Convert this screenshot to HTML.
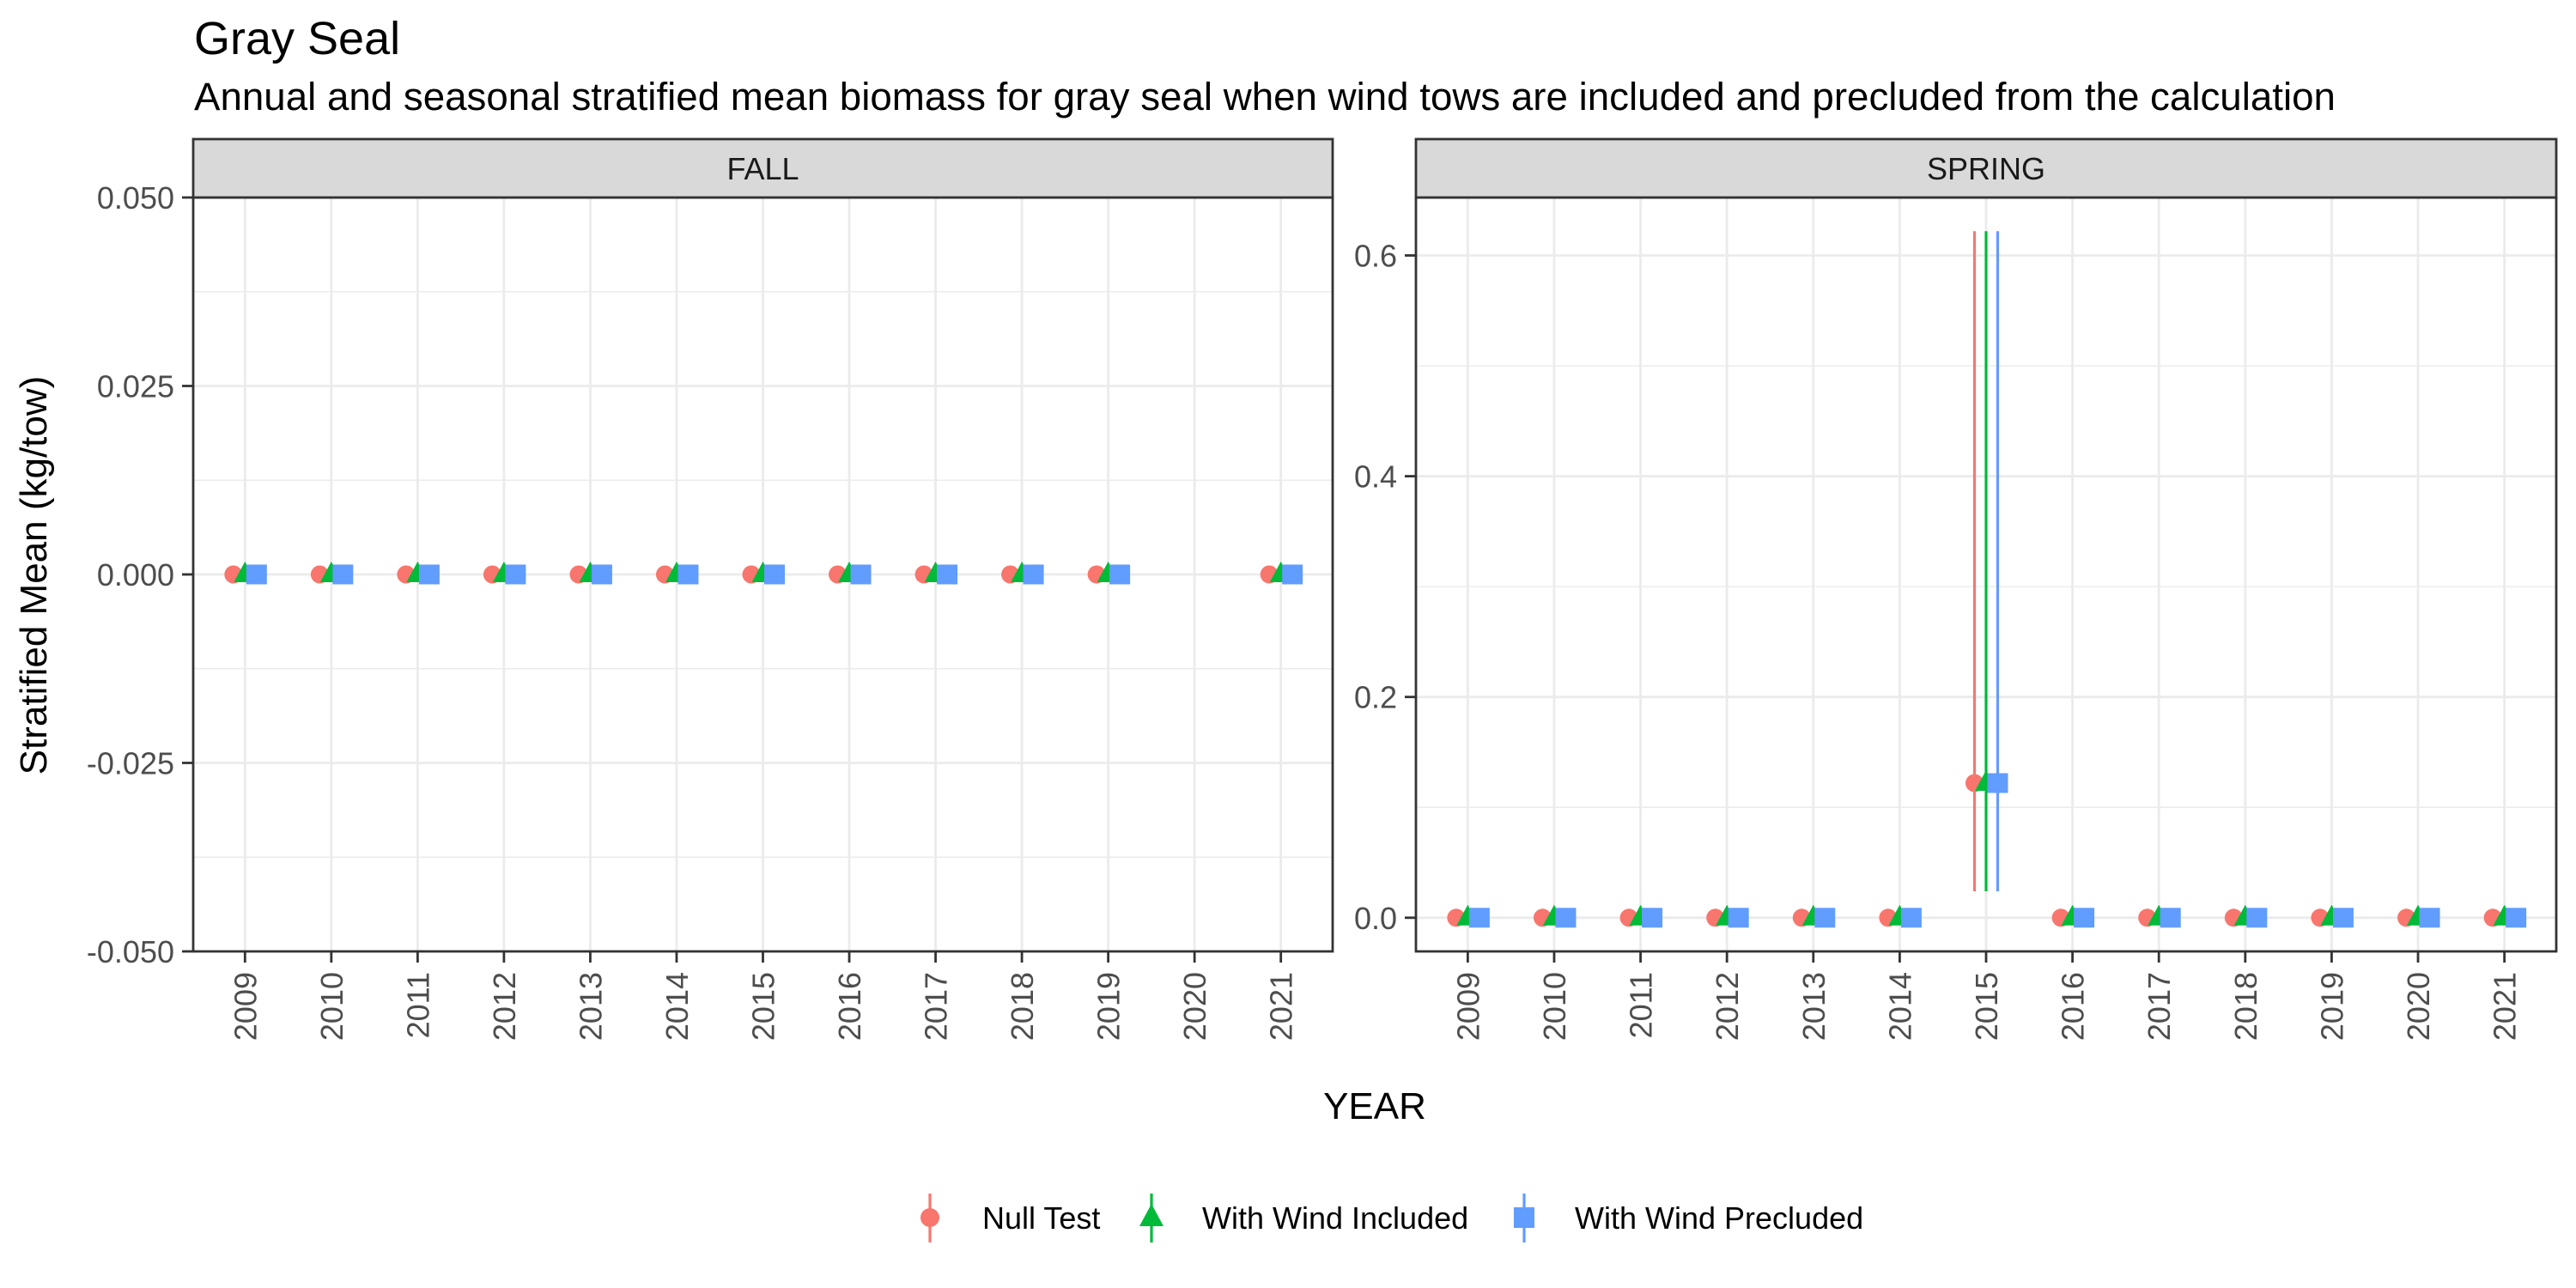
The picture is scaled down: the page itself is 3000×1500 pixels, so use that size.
<!DOCTYPE html>
<html><head><meta charset="utf-8">
<style>
html,body{margin:0;padding:0;background:#fff;}
svg{display:block;font-family:"Liberation Sans",Arial,sans-serif;}
</style></head>
<body>
<svg id="chart" width="3000" height="1500" viewBox="0 0 3000 1500" xmlns="http://www.w3.org/2000/svg">
<rect width="3000" height="1500" fill="#fff"/>
<text x="226" y="63" font-size="54" fill="#000">Gray Seal</text>
<text x="226" y="128" font-size="45.7" fill="#000">Annual and seasonal stratified mean biomass for gray seal when wind tows are included and precluded from the calculation</text>
<text transform="translate(54,670) rotate(-90)" text-anchor="middle" font-size="44" fill="#000">Stratified Mean (kg/tow)</text>
<text x="1601" y="1303" text-anchor="middle" font-size="44" fill="#000">YEAR</text>
<g id="panels"></g>
<g id="legend"></g>
</svg>
<script>
const years = [2009,2010,2011,2012,2013,2014,2015,2016,2017,2018,2019,2020,2021];
const seriesNames = ["Null Test","With Wind Included","With Wind Precluded"];
const seriesColors = ["#F8766D","#00BA38","#619CFF"];
const fallYears = [2009,2010,2011,2012,2013,2014,2015,2016,2017,2018,2019,2021];
const fallNull = [0,0,0,0,0,0,0,0,0,0,0,0];
const fallIncluded = [0,0,0,0,0,0,0,0,0,0,0,0];
const fallPrecluded = [0,0,0,0,0,0,0,0,0,0,0,0];
const springYears = [2009,2010,2011,2012,2013,2014,2015,2016,2017,2018,2019,2020,2021];
const springNull = [0,0,0,0,0,0,0.122,0,0,0,0,0,0];
const springIncluded = [0,0,0,0,0,0,0.122,0,0,0,0,0,0];
const springPrecluded = [0,0,0,0,0,0,0.122,0,0,0,0,0,0];
const springLower = [0,0,0,0,0,0,0.024,0,0,0,0,0,0];
const springUpper = [0,0,0,0,0,0,0.622,0,0,0,0,0,0];
const fallTicks = [-0.05,-0.025,0,0.025,0.05];
const fallTickLabels = ["-0.050","-0.025","0.000","0.025","0.050"];
const fallMinor = [-0.0375,-0.0125,0.0125,0.0375];
const springTicks = [0,0.2,0.4,0.6];
const springTickLabels = ["0.0","0.2","0.4","0.6"];
const springMinor = [0.1,0.3,0.5];

const NS="http://www.w3.org/2000/svg";
function mk(tag, attrs, parent){const e=document.createElementNS(NS,tag);for(const k in attrs)e.setAttribute(k,attrs[k]);parent.appendChild(e);return e;}
const panelsG=document.getElementById('panels');
const pTop=230, pBottom=1108, stripTop=162;

function drawPanel(p){
  const g=mk('g',{},panelsG);
  
  
  const L=p.left,R=p.right,W=R-L;
  const step=W/(years.length-1+1.2);
  const xs=y=>L+step*(0.6+years.indexOf(y));
  const ys=v=>pBottom-(v-p.ymin)/(p.ymax-p.ymin)*(pBottom-pTop);
  mk('rect',{x:L,y:pTop,width:W,height:pBottom-pTop,fill:'#fff'},g);
  p.minor.forEach(v=>{const l=mk('line',{x1:L,x2:R,y1:ys(v),y2:ys(v),stroke:'#EBEBEB','stroke-width':1.4},g);
    });
  p.ticks.forEach(v=>{const l=mk('line',{x1:L,x2:R,y1:ys(v),y2:ys(v),stroke:'#EBEBEB','stroke-width':2.8},g);
    });
  years.forEach(y=>{const l=mk('line',{x1:xs(y),x2:xs(y),y1:pTop,y2:pBottom,stroke:'#EBEBEB','stroke-width':2.8},g);
    });
  p.ticks.forEach((v,i)=>{
    const t=mk('line',{x1:L-13,x2:L,y1:ys(v),y2:ys(v),stroke:'#333','stroke-width':2.8},g);
    
    const tx=mk('text',{x:L-22,y:ys(v)+13,'text-anchor':'end','font-size':36,fill:'#4D4D4D'},g);
    tx.textContent=p.tickLabels[i];
    
  });
  years.forEach(y=>{
    const x=xs(y);
    const t=mk('line',{x1:x,x2:x,y1:pBottom,y2:pBottom+13,stroke:'#333','stroke-width':2.8},g);
    
    const tx=mk('text',{transform:`translate(${x+13},${pBottom+24}) rotate(-90)`,'text-anchor':'end','font-size':36,fill:'#4D4D4D'},g);
    tx.textContent=String(y);
    
  });
  const off=[-13.5,0,13.5];
  if(p.lower){
    p.yearsArr.forEach((y,i)=>{
      if(p.upper[i]===p.lower[i])return;
      for(let s=0;s<3;s++){
        const l=mk('line',{x1:xs(y)+off[s],x2:xs(y)+off[s],y1:ys(p.lower[i]),y2:ys(p.upper[i]),stroke:seriesColors[s],'stroke-width':3.2},g);
        
      }
    });
  }
  p.yearsArr.forEach((y,i)=>{
    const cx=xs(y);
    const c=mk('circle',{cx:cx+off[0],cy:ys(p.series[0][i]),r:10.5,fill:seriesColors[0]},g);
    
    const tx=cx+off[1],ty=ys(p.series[1][i]);
    const tr=mk('polygon',{points:`${tx},${ty-15} ${tx-13},${ty+9} ${tx+13},${ty+9}`,fill:seriesColors[1]},g);
    
    const sx=cx+off[2],sy=ys(p.series[2][i]);
    const sq=mk('rect',{x:sx-12,y:sy-11.5,width:24,height:23,fill:seriesColors[2]},g);
    
  });
  const bd=mk('rect',{x:L,y:pTop,width:W,height:pBottom-pTop,fill:'none',stroke:'#333','stroke-width':2.8},g);
  
  const st=mk('rect',{x:L,y:stripTop,width:W,height:pTop-stripTop,fill:'#D9D9D9',stroke:'#333','stroke-width':2.8},g);
  
  const stt=mk('text',{x:L+W/2,y:stripTop+47,'text-anchor':'middle','font-size':36,fill:'#1A1A1A'},g);
  stt.textContent=p.label;
  
}
drawPanel({name:'fall',label:'FALL',left:225,right:1552,ymin:-0.05,ymax:0.05,ticks:fallTicks,tickLabels:fallTickLabels,minor:fallMinor,
  yearsArr:fallYears,series:[fallNull,fallIncluded,fallPrecluded]});
drawPanel({name:'spring',label:'SPRING',left:1649,right:2977,ymin:-0.0305,ymax:0.6525,ticks:springTicks,tickLabels:springTickLabels,minor:springMinor,
  yearsArr:springYears,series:[springNull,springIncluded,springPrecluded],lower:springLower,upper:springUpper});

const lg=document.getElementById('legend');
const keyX=[1083,1341,1775], textX=[1144,1400,1834], ly=1418;
seriesNames.forEach((n,s)=>{
  const item=mk('g',{},lg);
  
  
  mk('line',{x1:keyX[s],x2:keyX[s],y1:ly-28,y2:ly+29,stroke:seriesColors[s],'stroke-width':3.2},item);
  if(s===0)mk('circle',{cx:keyX[s],cy:ly,r:11,fill:seriesColors[s]},item);
  if(s===1)mk('polygon',{points:`${keyX[s]},${ly-16} ${keyX[s]-14},${ly+10} ${keyX[s]+14},${ly+10}`,fill:seriesColors[s]},item);
  if(s===2)mk('rect',{x:keyX[s]-12,y:ly-12,width:24,height:24,fill:seriesColors[s]},item);
  const t=mk('text',{x:textX[s],y:ly+13,'font-size':36,fill:'#000'},item);
  t.textContent=n;
});
</script>
</body></html>
